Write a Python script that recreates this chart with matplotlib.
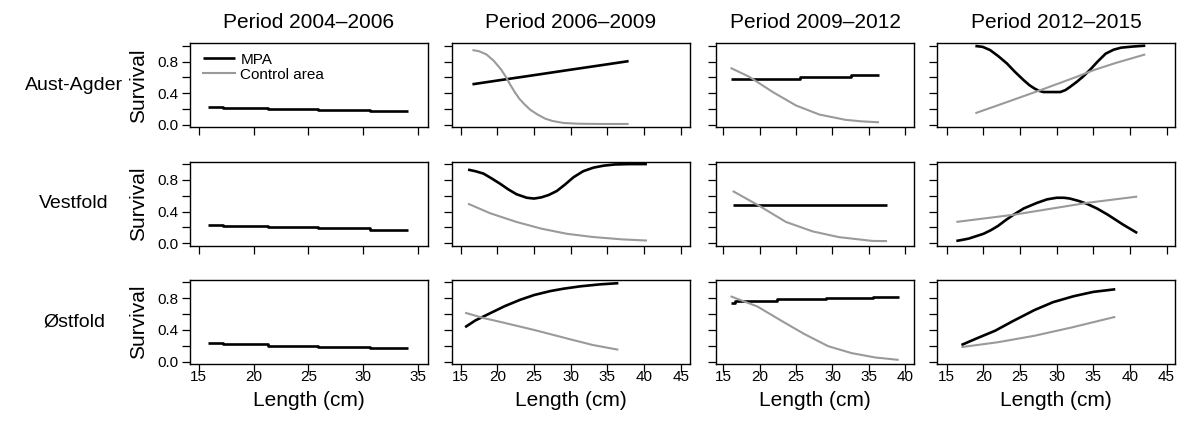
import matplotlib.pyplot as plt

plt.rcParams['font.family'] = ['Liberation Sans', 'DejaVu Sans']

periods = ['Period 2004\u20132006', 'Period 2006\u20132009', 'Period 2009\u20132012', 'Period 2012\u20132015']
regions = ['Aust-Agder', 'Vestfold', '\u00d8stfold']

# period 2004-2006: only MPA, same step curve in all regions
len_0406 = [15.8, 17.2, 21.3, 25.9, 30.6, 34.1]
surv_0406 = [0.232, 0.218, 0.203, 0.188, 0.172, 0.172]

# Aust-Agder
aa_0609_mpa_x = [16.6, 20, 25, 30, 35, 37.9]
aa_0609_mpa_y = [0.513, 0.56, 0.628, 0.697, 0.765, 0.805]
aa_0609_ctl_x = [16.6, 17.5, 18.5, 19.5, 20.5, 21.2, 21.8, 22.4, 23.0, 23.7, 24.5, 25.5, 26.5, 27.5, 29, 31, 34, 37.9]
aa_0609_ctl_y = [0.945, 0.93, 0.89, 0.81, 0.70, 0.60, 0.50, 0.41, 0.33, 0.26, 0.19, 0.13, 0.08, 0.05, 0.025, 0.015, 0.012, 0.012]
aa_0912_mpa_x = [16.0, 25.5, 32.5, 36.4]
aa_0912_mpa_y = [0.58, 0.605, 0.635, 0.635]
aa_0912_ctl_x = [16.0, 18.6, 21.8, 25.0, 28.2, 31.8, 34, 36.4]
aa_0912_ctl_y = [0.72, 0.606, 0.415, 0.245, 0.131, 0.064, 0.045, 0.033]
aa_1215_mpa_x = [18.9, 19.9, 20.9, 22, 23.2, 24.3, 25.5, 26.3, 27.0, 27.6, 28.2, 29.6, 30.5, 31.2,
                 31.8, 32.7, 33.6, 34.5, 35.6, 36.7, 37.8, 38.8, 40.5, 42.1]
aa_1215_mpa_y = [0.996, 0.985, 0.945, 0.87, 0.776, 0.67, 0.564, 0.50, 0.458, 0.43, 0.415, 0.415, 0.415, 0.44,
                 0.478, 0.54, 0.61, 0.69, 0.80, 0.90, 0.95, 0.975, 0.99, 1.0]
aa_1215_ctl_x = [18.9, 23.2, 27.7, 32.7, 35, 38, 42.1]
aa_1215_ctl_y = [0.148, 0.288, 0.436, 0.606, 0.69, 0.78, 0.89]

# Vestfold
ve_0609_mpa_x = [16.0, 17, 18.1, 19.2, 20.4, 21.5, 22.6, 24.0, 25.0, 26, 27, 28.1, 29.2, 30.4, 31.7,
                 33.1, 34.5, 36, 38, 40.4]
ve_0609_mpa_y = [0.93, 0.91, 0.88, 0.82, 0.75, 0.68, 0.62, 0.575, 0.565, 0.58, 0.61, 0.66, 0.74, 0.835, 0.91,
                 0.955, 0.98, 0.995, 1.0, 1.0]
ve_0609_ctl_x = [16.0, 19, 22.6, 26, 29.5, 33, 37, 40.4]
ve_0609_ctl_y = [0.50, 0.38, 0.27, 0.185, 0.12, 0.08, 0.05, 0.035]
ve_0912_mpa_x = [16.3, 37.5]
ve_0912_mpa_y = [0.48, 0.48]
ve_0912_ctl_x = [16.3, 20.0, 23.6, 27.3, 30.9, 35.5, 37.5]
ve_0912_ctl_y = [0.66, 0.47, 0.27, 0.15, 0.078, 0.03, 0.028]
ve_1215_mpa_x = [16.3, 17.2, 18, 19, 20, 21, 22, 23, 24.1, 25.5, 27.3, 28.7, 30.0, 31, 31.8, 33, 34.1,
                 35.5, 37, 38, 39, 40, 41]
ve_1215_mpa_y = [0.03, 0.045, 0.06, 0.09, 0.12, 0.165, 0.22, 0.29, 0.36, 0.44, 0.51, 0.555, 0.575, 0.575,
                 0.565, 0.535, 0.50, 0.44, 0.36, 0.30, 0.24, 0.185, 0.13]
ve_1215_ctl_x = [16.3, 24.1, 34.1, 41]
ve_1215_ctl_y = [0.27, 0.36, 0.51, 0.59]

# Ostfold
os_0609_mpa_x = [15.6, 17, 19.0, 21, 23.1, 25, 27.2, 29, 31.3, 34, 36.5]
os_0609_mpa_y = [0.435, 0.52, 0.61, 0.70, 0.78, 0.84, 0.89, 0.92, 0.95, 0.975, 0.99]
os_0609_ctl_x = [15.6, 18.1, 20, 25, 30, 33, 36.5]
os_0609_ctl_y = [0.617, 0.55, 0.51, 0.40, 0.28, 0.21, 0.15]
os_0912_mpa_x = [16.0, 16.6, 22.4, 29.1, 35.5, 39.1]
os_0912_mpa_y = [0.74, 0.77, 0.787, 0.80, 0.815, 0.815]
os_0912_ctl_x = [16.0, 19.7, 22.9, 26.1, 29.4, 32.6, 35.9, 39.1]
os_0912_ctl_y = [0.825, 0.695, 0.52, 0.35, 0.195, 0.108, 0.052, 0.022]
os_1215_mpa_x = [17.0, 19, 21.6, 24, 26.95, 29.5, 32.3, 35, 38.0]
os_1215_mpa_y = [0.21, 0.29, 0.39, 0.51, 0.65, 0.75, 0.825, 0.88, 0.913]
os_1215_ctl_x = [17.0, 22, 26.95, 32, 38.0]
os_1215_ctl_y = [0.183, 0.245, 0.326, 0.43, 0.565]

# (row, col) -> list of (x, y, kind, steps)
panels = {
    (0, 1): [(aa_0609_mpa_x, aa_0609_mpa_y, 'mpa', False), (aa_0609_ctl_x, aa_0609_ctl_y, 'ctl', False)],
    (0, 2): [(aa_0912_mpa_x, aa_0912_mpa_y, 'mpa', True), (aa_0912_ctl_x, aa_0912_ctl_y, 'ctl', False)],
    (0, 3): [(aa_1215_mpa_x, aa_1215_mpa_y, 'mpa', False), (aa_1215_ctl_x, aa_1215_ctl_y, 'ctl', False)],
    (1, 1): [(ve_0609_mpa_x, ve_0609_mpa_y, 'mpa', False), (ve_0609_ctl_x, ve_0609_ctl_y, 'ctl', False)],
    (1, 2): [(ve_0912_mpa_x, ve_0912_mpa_y, 'mpa', False), (ve_0912_ctl_x, ve_0912_ctl_y, 'ctl', False)],
    (1, 3): [(ve_1215_mpa_x, ve_1215_mpa_y, 'mpa', False), (ve_1215_ctl_x, ve_1215_ctl_y, 'ctl', False)],
    (2, 1): [(os_0609_mpa_x, os_0609_mpa_y, 'mpa', False), (os_0609_ctl_x, os_0609_ctl_y, 'ctl', False)],
    (2, 2): [(os_0912_mpa_x, os_0912_mpa_y, 'mpa', True), (os_0912_ctl_x, os_0912_ctl_y, 'ctl', False)],
    (2, 3): [(os_1215_mpa_x, os_1215_mpa_y, 'mpa', False), (os_1215_ctl_x, os_1215_ctl_y, 'ctl', False)],
}
for r in range(3):
    panels[(r, 0)] = [(len_0406, surv_0406, 'mpa', True)]

styles = {'mpa': dict(color='black', lw=1.9), 'ctl': dict(color='#9a9a9a', lw=1.5)}

W, H = 1180, 421
fig = plt.figure(figsize=(W / 100, H / 100), dpi=100)

col_left = [190, 451.7, 716, 937.3]
col_w = [237.7, 238.3, 198, 238]
row_top = [43.3, 161.7, 280]
row_h = 84
xlims = [(14.2, 35.9), (13.77, 46.27), (14.0, 41.2), (13.7, 46.2)]
xtick_sets = [range(15, 36, 5), range(15, 46, 5), range(15, 41, 5), range(15, 46, 5)]

for r in range(3):
    for c in range(4):
        ax = fig.add_axes([col_left[c] / W, 1 - (row_top[r] + row_h) / H, col_w[c] / W, row_h / H])
        for x, y, kind, steps in panels[(r, c)]:
            ax.plot(x, y, drawstyle='steps-post' if steps else 'default',
                    solid_capstyle='butt', **styles[kind])
        ax.set_xlim(*xlims[c])
        ax.set_ylim(-0.03, 1.03)
        ax.set_xticks(list(xtick_sets[c]))
        ax.set_yticks([0, 0.2, 0.4, 0.6, 0.8, 1.0])
        ax.tick_params(direction='out', length=6, width=0.9, labelsize=11, pad=2)
        ax.tick_params(axis='x', pad=-2)
        for s in ax.spines.values():
            s.set_linewidth(1.0)
        if c == 0:
            ax.set_yticklabels(['0.0', '', '0.4', '', '0.8', ''])
            ax.set_ylabel('Survival', fontsize=15)
            ax.yaxis.set_label_coords(-0.175, 0.5)
            fig.text(74 / W, 1 - (row_top[r] + row_h / 2) / H, regions[r],
                     fontsize=14, ha='center', va='center')
        else:
            ax.set_yticklabels([])
        if r == 2:
            ax.set_xlabel('Length (cm)', fontsize=15, labelpad=5)
        else:
            ax.set_xticklabels([])
        if r == 0:
            ax.set_title(periods[c], fontsize=15, pad=11)
        if r == 0 and c == 0:
            ax.plot([], [], label='Control area', **styles['ctl'])
            ax.get_lines()[0].set_label('MPA')
            ax.legend(loc='upper left', bbox_to_anchor=(13 / 237.7, 0.89), frameon=False,
                      fontsize=11, handlelength=2.1, handletextpad=0.35,
                      labelspacing=0.08, borderpad=0, borderaxespad=0)

fig.savefig('out.png', dpi=100)
